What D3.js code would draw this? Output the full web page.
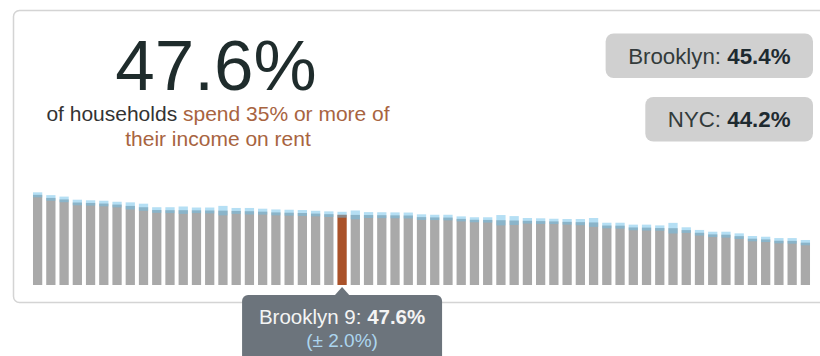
<!DOCTYPE html>
<html>
<head>
<meta charset="utf-8">
<script src="https://cdn.jsdelivr.net/npm/d3@7"></script>
<style>
  html, body { margin: 0; padding: 0; background: #fff; }
  svg { display: block; font-family: "Liberation Sans", Arial, Helvetica, sans-serif; }
</style>
</head>
<body>
<svg id="chart" width="820" height="356"></svg>
<script>
// Share of households spending 35% or more of income on rent,
// one bar per community district, sorted from highest to lowest.
const values = [
  61.1, 59.0, 58.0, 55.9, 55.6, 55.2, 54.5, 53.6, 52.7, 50.8,
  50.7, 50.7, 50.6, 50.5, 50.4, 50.2, 50.0, 49.7, 49.2, 49.0,
  48.8, 48.4, 48.0, 47.6, 47.5, 47.4, 47.3, 47.2, 47.1, 46.0,
  45.8, 45.7, 44.8, 44.2, 44.1, 43.9, 43.7, 43.5, 43.3, 43.1,
  42.8, 42.6, 42.4, 40.3, 40.2, 39.0, 38.9, 38.6, 38.5, 37.2,
  35.4, 34.3, 34.1, 33.1, 31.4, 30.9, 30.0, 29.9, 28.7
];
// Margin of error for each district (percentage points)
const moes = [
  1.7, 1.9, 1.9, 1.9, 1.8, 1.9, 1.9, 2.4, 2.4, 1.9,
  2.0, 2.5, 1.9, 2.0, 3.2, 2.0, 2.2, 2.0, 2.0, 2.0,
  2.0, 1.9, 1.9, 2.0, 3.0, 2.0, 2.0, 2.0, 2.0, 1.9,
  1.8, 1.9, 1.7, 1.7, 1.8, 3.5, 3.0, 1.9, 1.9, 1.8,
  1.9, 2.1, 3.0, 1.9, 2.0, 1.9, 2.0, 1.8, 3.6, 1.9,
  1.9, 1.8, 2.0, 1.9, 1.8, 1.8, 1.8, 1.9, 1.8
];
const ranks = d3.range(1, values.length + 1);

// Selected district and comparison figures
const selectedName = "Brooklyn 9";
const selectedRank = 24;
const comparisons = [
  { label: "Brooklyn", value: 45.4 },
  { label: "NYC", value: 44.2 }
];
const headlineText = ["of households ", "spend 35% or more of"];
const headlineText2 = "their income on rent";

const fmt = v => v.toFixed(1) + "%";
const selIdx = selectedRank - 1;
const selValue = values[selIdx];
const selMoe = moes[selIdx];

const svg = d3.select("#chart");

// Card outline
svg.append("rect")
  .attr("x", 13.5).attr("y", 10.5)
  .attr("width", 840).attr("height", 292)
  .attr("rx", 6)
  .attr("fill", "#fff")
  .attr("stroke", "#d4d4d4")
  .attr("stroke-width", 1.5);

// Headline figure
svg.append("text")
  .attr("x", 216).attr("y", 90)
  .attr("text-anchor", "middle")
  .attr("font-size", 71)
  .attr("fill", "#1f2c2c")
  .text(fmt(selValue));

const sub = svg.append("text")
  .attr("x", 218).attr("y", 121)
  .attr("text-anchor", "middle")
  .attr("font-size", 21);
sub.append("tspan").attr("fill", "#333").text(headlineText[0]);
sub.append("tspan").attr("fill", "#a8643f").text(headlineText[1]);
svg.append("text")
  .attr("x", 218).attr("y", 146)
  .attr("text-anchor", "middle")
  .attr("font-size", 21)
  .attr("fill", "#a8643f")
  .text(headlineText2);

// Comparison pills, right aligned
const pillRight = 813;
const pillTops = [33.5, 97];
comparisons.forEach((c, i) => {
  const g = svg.append("g");
  const rect = g.append("rect").attr("fill", "#d0d0d0").attr("rx", 8);
  const t = g.append("text")
    .attr("y", pillTops[i] + 30)
    .attr("font-size", 22.3)
    .attr("fill", "#333b3b");
  t.append("tspan").text(c.label + ": ");
  t.append("tspan").attr("font-weight", "bold").attr("fill", "#1e2a30").text(fmt(c.value));
  const w = t.node().getComputedTextLength();
  const padX = 22.5;
  t.attr("x", pillRight - padX - w);
  rect.attr("x", pillRight - w - 2 * padX)
    .attr("y", pillTops[i])
    .attr("width", w + 2 * padX)
    .attr("height", 44.5);
});

// Bars
const x = d3.scaleBand()
  .domain(ranks)
  .range([31, 812])
  .paddingInner(0.3)
  .paddingOuter(0.15);
const y = d3.scaleLinear()
  .domain([0, 70])
  .range([285, 181.7]);

const bars = svg.append("g");
bars.selectAll("rect.bar")
  .data(ranks)
  .join("rect")
  .attr("class", "bar")
  .attr("x", r => x(r))
  .attr("width", x.bandwidth())
  .attr("y", r => y(values[r - 1]))
  .attr("height", r => y(0) - y(values[r - 1]))
  .attr("fill", r => r === selectedRank ? "#aa5229" : "#a9a9a9");

// Margin-of-error bands
bars.selectAll("rect.moe")
  .data(ranks)
  .join("rect")
  .attr("class", "moe")
  .attr("x", r => x(r))
  .attr("width", x.bandwidth())
  .attr("y", r => y(values[r - 1] + moes[r - 1]))
  .attr("height", r => y(values[r - 1] - moes[r - 1]) - y(values[r - 1] + moes[r - 1]))
  .attr("fill", "#6cbfea")
  .attr("opacity", 0.5);

// Tooltip for the selected district
const cx = x(selectedRank) + x.bandwidth() / 2;
const tipW = 200, tipTop = 295;
const tip = svg.append("g");
tip.append("path")
  .attr("d", `M${cx - 8},${tipTop + 1} L${cx},${tipTop - 8} L${cx + 8},${tipTop + 1} Z`)
  .attr("fill", "#6c747c");
tip.append("rect")
  .attr("x", cx - tipW / 2).attr("y", tipTop)
  .attr("width", tipW).attr("height", 75)
  .attr("rx", 6)
  .attr("fill", "#6c747c");
const t1 = tip.append("text")
  .attr("x", cx).attr("y", tipTop + 28.5)
  .attr("text-anchor", "middle")
  .attr("font-size", 20.5)
  .attr("fill", "#f4f4f4");
t1.append("tspan").text(selectedName + ": ");
t1.append("tspan").attr("font-weight", "bold").text(fmt(selValue));
tip.append("text")
  .attr("x", cx).attr("y", tipTop + 52)
  .attr("text-anchor", "middle")
  .attr("font-size", 19)
  .attr("fill", "#acd6ef")
  .text("(\u00b1 " + fmt(selMoe) + ")");
</script>
</body>
</html>
